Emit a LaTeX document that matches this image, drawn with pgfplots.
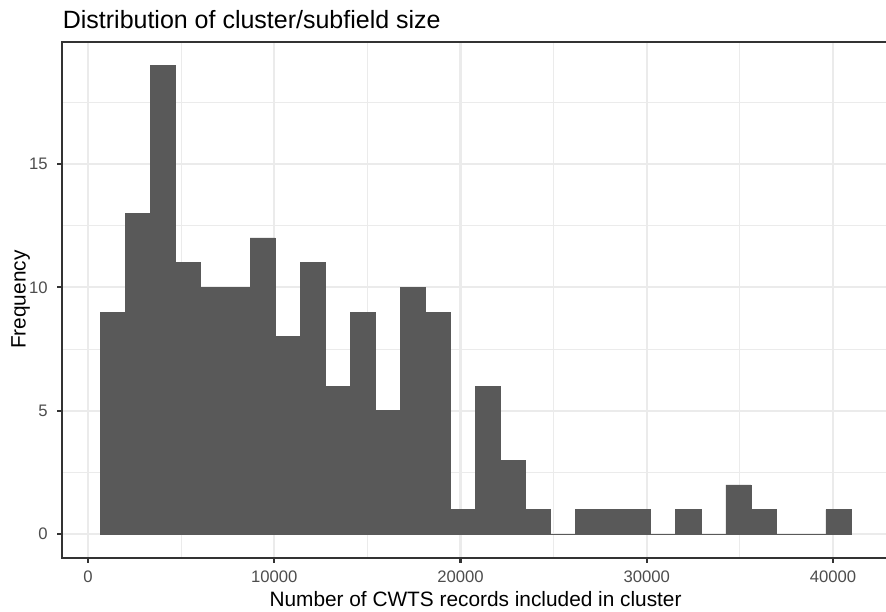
\documentclass[border=0pt]{standalone}
\usepackage{fontspec}
\setmainfont{Liberation Sans}
\usepackage{pgfplots}
\pgfplotsset{compat=1.18}

\definecolor{barfill}{HTML}{595959}
\definecolor{gridcol}{HTML}{EBEBEB}
\definecolor{framecol}{HTML}{333333}
\definecolor{ticklab}{HTML}{4D4D4D}

\begin{document}
\begin{tikzpicture}[x=1pt,y=1pt]
\useasboundingbox (0,0) rectangle (468,323.26);
\begin{axis}[
  at={(32.99pt,28.68pt)}, anchor=south west,
  scale only axis, width=436.35pt, height=272.56pt,
  xmin=-1372, xmax=42982, ymin=-0.95, ymax=19.95,
  xtick={0,10000,20000,30000,40000},
  minor xtick={5000,15000,25000,35000},
  ytick={0,5,10,15},
  minor ytick={2.5,7.5,12.5,17.5},
  grid=both,
  major grid style={draw=gridcol, line width=1.07pt},
  minor grid style={draw=gridcol, line width=0.53pt},
  axis line style={draw=framecol, line width=1.07pt},
  tick pos=left,
  tick align=outside,
  major tick length=2.75pt,
  minor tick length=0pt,
  major tick style={draw=framecol, line width=1.07pt},
  scaled x ticks=false,
  /pgf/number format/1000 sep={},
  /pgf/number format/assume math mode=true,
  ticklabel style={font=\fontsize{8.8}{10}\selectfont, text=ticklab, inner sep=0pt},
  xticklabel style={anchor=base, yshift=-10.2pt},
  yticklabel style={anchor=east, xshift=-4.84pt},
]
% histogram: left bin edges and counts (last edge closes the final bin)
\addplot[ybar interval, fill=barfill, draw=barfill, line width=0.3pt] coordinates {
  (644.00,9) (1988.07,13) (3332.14,19) (4676.21,11) (6020.28,10)
  (7364.35,10) (8708.42,12) (10052.49,8) (11396.56,11) (12740.63,6)
  (14084.70,9) (15428.77,5) (16772.84,10) (18116.91,9) (19460.98,1)
  (20805.05,6) (22149.12,3) (23493.19,1) (24837.26,0) (26181.33,1)
  (27525.40,1) (28869.47,1) (30213.54,0) (31557.61,1) (32901.68,0)
  (34245.75,2) (35589.82,1) (36933.89,0) (38277.96,0) (39622.03,1)
  (40966.10,0)
};
\end{axis}
\node[anchor=base west, inner sep=0pt, font=\fontsize{13.2}{15}\selectfont]
  at (33.0,308.0) {Distribution of cluster/subfield size};
\node[anchor=base, inner sep=0pt, font=\fontsize{11}{13}\selectfont]
  at (251.2,2.8) {Number of CWTS records included in cluster};
\node[anchor=base, rotate=90, inner sep=0pt, font=\fontsize{11}{13}\selectfont]
  at (13.6,164.96) {Frequency};
\end{tikzpicture}
\end{document}
